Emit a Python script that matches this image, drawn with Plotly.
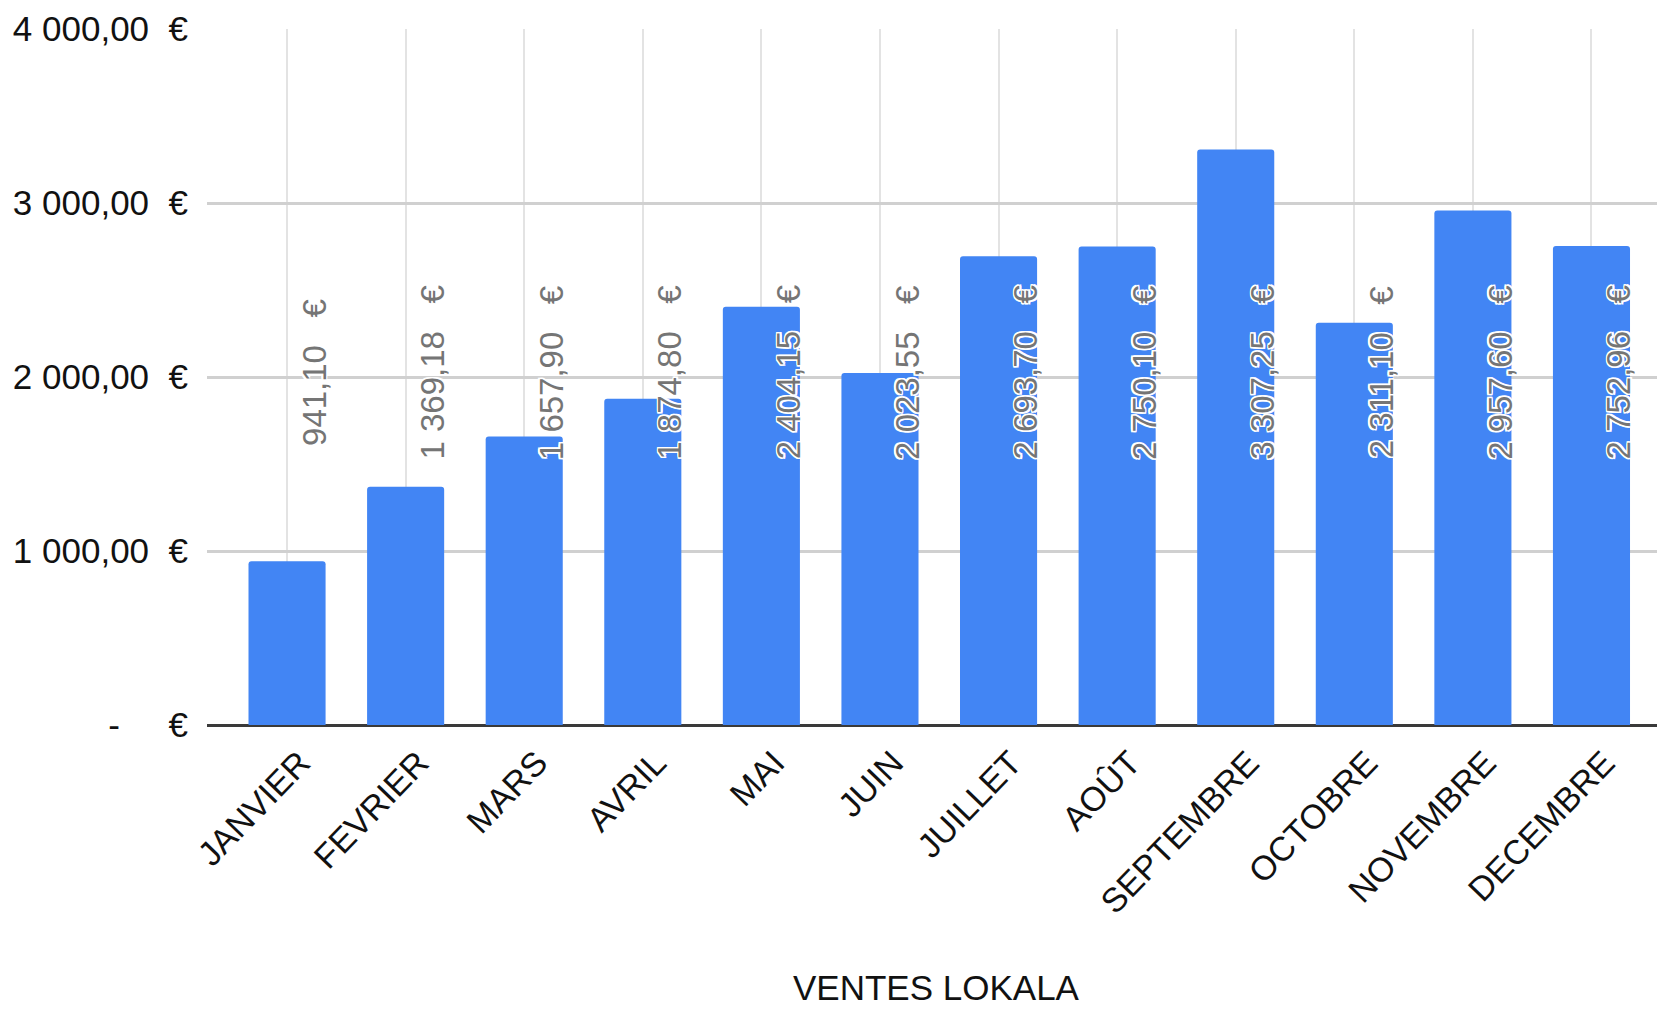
import plotly.graph_objects as go

months = ["JANVIER", "FEVRIER", "MARS", "AVRIL", "MAI", "JUIN", "JUILLET",
          "AOÛT", "SEPTEMBRE", "OCTOBRE", "NOVEMBRE", "DECEMBRE"]
sales = [941.10, 1369.18, 1657.90, 1874.80, 2404.15, 2023.55, 2693.70,
         2750.10, 3307.25, 2311.10, 2957.60, 2752.96]
y_tick_vals = [0, 1000, 2000, 3000, 4000]
y_tick_text = ["-\u00a0\u00a0\u00a0\u00a0\u00a0€", "1\u00a0000,00\u00a0\u00a0€", "2\u00a0000,00\u00a0\u00a0€",
               "3\u00a0000,00\u00a0\u00a0€", "4\u00a0000,00\u00a0\u00a0€"]
x_title = "VENTES LOKALA"

FONT = "Liberation Sans, Arial, sans-serif"
BAR_COLOR = "#4285F4"
LABEL_Y = 2025          # fixed vertical centre of the data labels (chart style)
LABEL_DX = 0.23         # label offset to the right of the bar centre


def fmt_eur(v):
    s = f"{v:,.2f}"
    ent, dec = s.split(".")
    ent = ent.replace(",", "\u00a0")
    return f"{ent},{dec}\u00a0\u00a0\u00a0€"


fig = go.Figure()
fig.add_trace(go.Bar(
    x=months, y=sales, marker=dict(color=BAR_COLOR, line=dict(width=0)),
    hoverinfo="skip", showlegend=False,
))

halo = ("1.5px 1.5px 0 #fff, -1.5px -1.5px 0 #fff, 1.5px -1.5px 0 #fff, -1.5px 1.5px 0 #fff, "
        "0 1.5px 0 #fff, 0 -1.5px 0 #fff, 1.5px 0 0 #fff, -1.5px 0 0 #fff")
annotations = []
for i, v in enumerate(sales):
    annotations.append(dict(
        x=i + LABEL_DX, y=LABEL_Y, xref="x", yref="y",
        text=fmt_eur(v), showarrow=False, textangle=-90,
        xanchor="center", yanchor="middle",
        font=dict(family=FONT, size=33, color="#757575", shadow=halo),
    ))
annotations.append(dict(
    x=0.5, y=0, xref="paper", yref="paper", yshift=-262,
    text=x_title, showarrow=False, xanchor="center", yanchor="middle",
    font=dict(family=FONT, size=35, color="#111111"),
))

fig.update_layout(
    width=1657, height=1001,
    margin=dict(l=199, r=0, t=21, b=284, autoexpand=False),
    paper_bgcolor="white", plot_bgcolor="white",
    bargap=0.35, barcornerradius=3,
    font=dict(family=FONT, color="#111111"),
    annotations=annotations,
)
fig.update_xaxes(
    type="category", range=[-0.675, 11.62],
    showgrid=True, gridcolor="#e3e3e3", gridwidth=1.5,
    tickangle=-46, tickfont=dict(family=FONT, size=34, color="#111111"),
    ticklabelshift=13, ticklabelstandoff=10,
    showline=False, ticks="", automargin=False,
)
fig.update_yaxes(
    range=[0, 4000], tickvals=y_tick_vals, ticktext=y_tick_text,
    showgrid=True, gridcolor="#d0d0d0", gridwidth=2.5,
    zeroline=True, zerolinecolor="#3a3a3a", zerolinewidth=3,
    tickfont=dict(family=FONT, size=35, color="#111111"),
    ticks="", ticklabelstandoff=18, automargin=False,
)

fig.write_html("out.html")
